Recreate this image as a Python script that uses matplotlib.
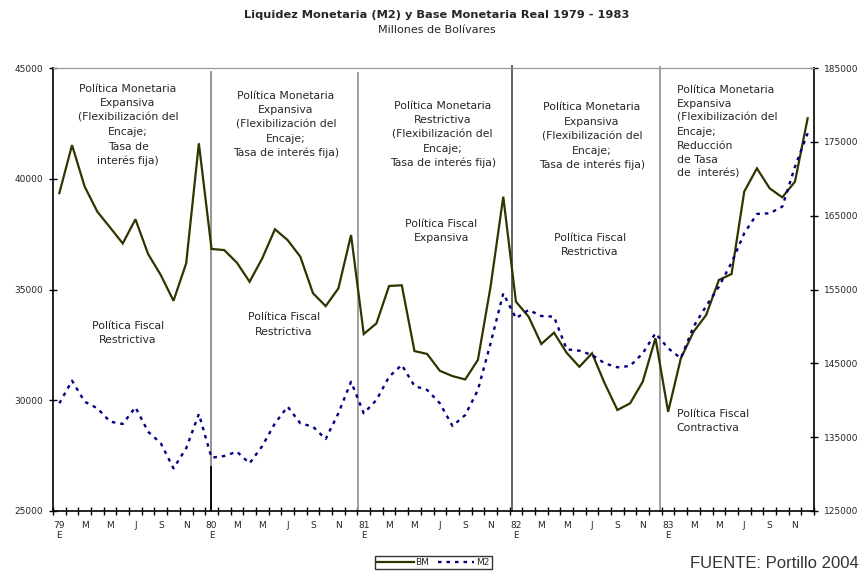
import matplotlib
matplotlib.use('Agg')
import matplotlib.pyplot as plt
import matplotlib.transforms as mtransforms
from matplotlib.lines import Line2D
import numpy as np

# ---------------- data ----------------
years = ['79', '80', '81', '82', '83']
month_letters = ['E', 'F', 'M', 'A', 'M', 'J', 'J', 'A', 'S', 'O', 'N', 'D']

bm = [39350, 41520, 39640, 38510, 37800, 37080, 38170, 36600, 35650, 34490, 36180, 41600,
      36830, 36780, 36210, 35350, 36410, 37720, 37230, 36480, 34830, 34250, 35050, 37460,
      32990, 33470, 35160, 35190, 32220, 32090, 31330, 31090, 30940, 31820, 35130, 39190,
      34450, 33770, 32540, 33050, 32140, 31510, 32120, 30760, 29560, 29860, 30840, 32800,
      29480, 31890, 33090, 33850, 35430, 35700, 39420, 40470, 39570, 39160, 39870, 42730]
m2 = [139590, 142650, 139800, 138910, 137100, 136790, 139050, 135740, 134170, 130780, 133490, 138140,
      132220, 132450, 133030, 131460, 133800, 136880, 139130, 136880, 136420, 134750, 138230, 142510,
      138230, 140030, 143190, 144780, 141930, 141390, 139590, 136510, 138000, 141390, 147710, 154480,
      151100, 152230, 151410, 151320, 146900, 146710, 146130, 145000, 144460, 144640, 146360, 149070,
      147040, 145680, 149960, 152770, 155380, 158630, 162610, 165230, 165320, 166220, 171640, 176160]

left_ticks = [25000, 30000, 35000, 40000, 45000]
right_ticks = [125000, 135000, 145000, 155000, 165000, 175000, 185000]
period_breaks = [11.97, 23.55, 35.67, 47.32]

title = 'Liquidez Monetaria (M2) y Base Monetaria Real 1979 - 1983'
subtitle = 'Millones de Bolívares'
source = 'FUENTE: Portillo 2004'

monetary_blocks = [
    ['Política Monetaria', 'Expansiva', '(Flexibilización del', 'Encaje;', 'Tasa de', 'interés fija)'],
    ['Política Monetaria', 'Expansiva', '(Flexibilización del', 'Encaje;', 'Tasa de interés fija)'],
    ['Política Monetaria', 'Restrictiva', '(Flexibilización del', 'Encaje;', 'Tasa de interés fija)'],
    ['Política Monetaria', 'Expansiva', '(Flexibilización del', 'Encaje;', 'Tasa de interés fija)'],
    ['Política Monetaria', 'Expansiva', '(Flexibilización del', 'Encaje;', 'Reducción', 'de Tasa', 'de  interés)'],
]
fiscal_blocks = [
    ['Política Fiscal', 'Restrictiva'],
    ['Política Fiscal', 'Restrictiva'],
    ['Política Fiscal', 'Expansiva'],
    ['Política Fiscal', 'Restrictiva'],
    ['Política Fiscal', 'Contractiva'],
]

# ---------------- layout ----------------
W, H = 864, 574
fig = plt.figure(figsize=(W / 100, H / 100), dpi=100)
L, R, T, B = 53, 814, 68, 511
ax = fig.add_axes([L / W, 1 - B / H, (R - L) / W, (B - T) / H])
ax2 = ax.twinx()

n = len(bm)
x = np.arange(n)
txt_color = '#262626'
FONT = 'DejaVu Sans'
M2_DASH = (1.5, 2.1)

ax.plot(x, bm, color='#333300', lw=1.6, solid_joinstyle='miter', zorder=3)
ax2.plot(x, m2, color='#000080', lw=1.7, dashes=M2_DASH, zorder=3)

ax.set_xlim(-0.5, n - 0.5)
ax.set_ylim(25000, 45000)
ax2.set_ylim(125000, 185000)
ax.set_yticks(left_ticks)
ax2.set_yticks(right_ticks)
ax.set_yticklabels([str(v) for v in left_ticks])
ax2.set_yticklabels([str(v) for v in right_ticks])

major = list(range(0, n, 2))
labels = []
for i in major:
    m = month_letters[i % 12]
    if i % 12 == 0:
        labels.append(f'{years[i // 12]}\n{m}')
    else:
        labels.append(m)
ax.set_xticks(major)
ax.set_xticklabels(labels, linespacing=1.25)
ax.set_xticks(np.arange(-0.5, n, 1.0), minor=True)

ax.tick_params(axis='x', which='major', length=0, pad=7, labelsize=6.5, labelcolor=txt_color)
ax.tick_params(axis='x', which='minor', length=6, direction='inout', width=1.0)
ax.tick_params(axis='y', length=6, direction='inout', width=1.0, labelsize=6.5, pad=4, labelcolor=txt_color)
ax2.tick_params(axis='y', length=6, direction='inout', width=1.0, labelsize=6.5, pad=4, labelcolor=txt_color)
for lab in ax.get_xticklabels() + ax.get_yticklabels() + ax2.get_yticklabels():
    lab.set_family(FONT)

for a in (ax, ax2):
    a.spines['top'].set_color('#999999')
    a.spines['top'].set_linewidth(0.8)
for s in ('left', 'bottom'):
    ax.spines[s].set_linewidth(1.2)
    ax.spines[s].set_color('black')
    ax2.spines[s].set_visible(False)
ax2.spines['right'].set_linewidth(1.2)
ax2.spines['right'].set_color('black')
ax.spines['right'].set_visible(False)

# vertical period separators
sep_colors = ['#8a8a8a', '#999999', '#555555', '#999999']
sep_tops = [0.99, 0.988, 1.005, 1.002]
for xs, c, tp in zip(period_breaks, sep_colors, sep_tops):
    ax.axvline(xs, ymin=0, ymax=tp, color=c, lw=1.3, zorder=2, clip_on=False)
ax.axvline(period_breaks[0], ymin=0, ymax=0.1, color='black', lw=1.3, zorder=2)


def block(lines, xa, ya, step_px, ha, size=7.8):
    for k, line in enumerate(lines):
        tr = mtransforms.offset_copy(ax.transAxes, fig=fig, x=0, y=-k * step_px, units='dots')
        ax.text(xa, ya, line, transform=tr, ha=ha, va='baseline', fontsize=size,
                color=txt_color, family=FONT, zorder=4)


mon_pos = [(0.0986, 0.946, 'center', 14.4), (0.306, 0.931, 'center', 14.4),
           (0.512, 0.908, 'center', 14.4), (0.708, 0.9045, 'center', 14.4),
           (0.8196, 0.9445, 'left', 14.0)]
for lines, (xa, ya, ha, st) in zip(monetary_blocks, mon_pos):
    block(lines, xa, ya, st, ha)

fis_pos = [(0.0986, 0.4117, 'center'), (0.3035, 0.4305, 'center'), (0.51, 0.642, 'center'),
           (0.7057, 0.6104, 'center'), (0.8196, 0.213, 'left')]
for lines, (xa, ya, ha) in zip(fiscal_blocks, fis_pos):
    block(lines, xa, ya, 14.7, ha)

# titles
fig.text(436.7 / W, 1 - 15 / H, title, ha='center', va='center', fontsize=8.2,
         fontweight='bold', color=txt_color, family=FONT)
fig.text(436.7 / W, 1 - 30 / H, subtitle, ha='center', va='center', fontsize=8.0,
         color=txt_color, family=FONT)
fig.text(859 / W, 1 - 563 / H, source, ha='right', va='center', fontsize=12,
         color='#333333', family='Liberation Sans')

# legend
handles = [Line2D([], [], color='#333300', lw=1.6),
           Line2D([], [], color='#000080', lw=1.7, dashes=M2_DASH)]
leg = fig.legend(handles, ['BM', 'M2'], loc='center', bbox_to_anchor=(433.5 / W, 1 - 562.5 / H),
                 ncol=2, fontsize=6.5, frameon=True, fancybox=False, handlelength=4.0,
                 handletextpad=0.2, columnspacing=1.0, borderpad=0.25, borderaxespad=0)
leg.get_frame().set_edgecolor('black')
leg.get_frame().set_linewidth(1.0)
for t in leg.get_texts():
    t.set_family(FONT)
    t.set_color(txt_color)

fig.savefig('out.png', dpi=100)
